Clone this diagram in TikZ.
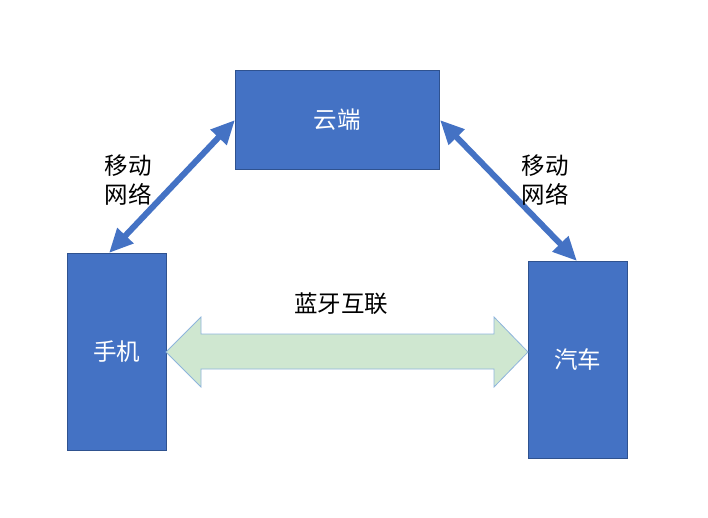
\documentclass[tikz,border=0pt]{standalone}
\usepackage{fontspec}
\setmainfont{Noto Sans CJK SC}
\usetikzlibrary{arrows.meta}
\definecolor{boxblue}{HTML}{4472C4}
\definecolor{boxedge}{HTML}{2F528F}
\definecolor{lgreen}{HTML}{CFE7D0}
\definecolor{lgedge}{HTML}{8EB4DC}
\tikzset{
  x=1pt,y=-1pt,
  bluebox/.style={draw=boxedge,fill=boxblue,line width=0.8pt,text=white,font=\fontsize{23.5}{28}\selectfont,inner sep=0pt},
  netlink/.style={draw=boxblue,line width=6pt,{Triangle[width=21pt,length=24pt]}-{Triangle[width=21pt,length=24pt]}},
  lbl/.style={font=\fontsize{23.5}{29}\selectfont,align=center,inner sep=0pt}
}
\begin{document}
\begin{tikzpicture}
\useasboundingbox (0,0) rectangle (708,517);
\node[bluebox,minimum width=204pt,minimum height=99pt] (cloud) at (337,119.5) {云端};
\node[bluebox,minimum width=99pt,minimum height=197pt] (phone) at (116.5,351.5) {手机};
\node[bluebox,minimum width=99pt,minimum height=197pt] (car) at (577.5,359.5) {汽车};
\coordinate (p1) at (109,253);
\coordinate (c1) at (235,120);
\coordinate (c2) at (440,120);
\coordinate (a1) at (577,261);
\draw[netlink] (p1) -- (c1);
\draw[netlink] (c2) -- (a1);
\node[lbl] (l1) at (128,180) {移动\\网络};
\node[lbl] (l2) at (545,180) {移动\\网络};
\node[lbl] (bt) at (341,304) {蓝牙互联};
\draw[draw=lgedge,fill=lgreen,line width=0.8pt]
  (166,352) -- (201,317) -- (201,334) -- (494,334) -- (494,317) -- (528,352)
  -- (494,387) -- (494,369) -- (201,369) -- (201,387) -- cycle;
\end{tikzpicture}
\end{document}
